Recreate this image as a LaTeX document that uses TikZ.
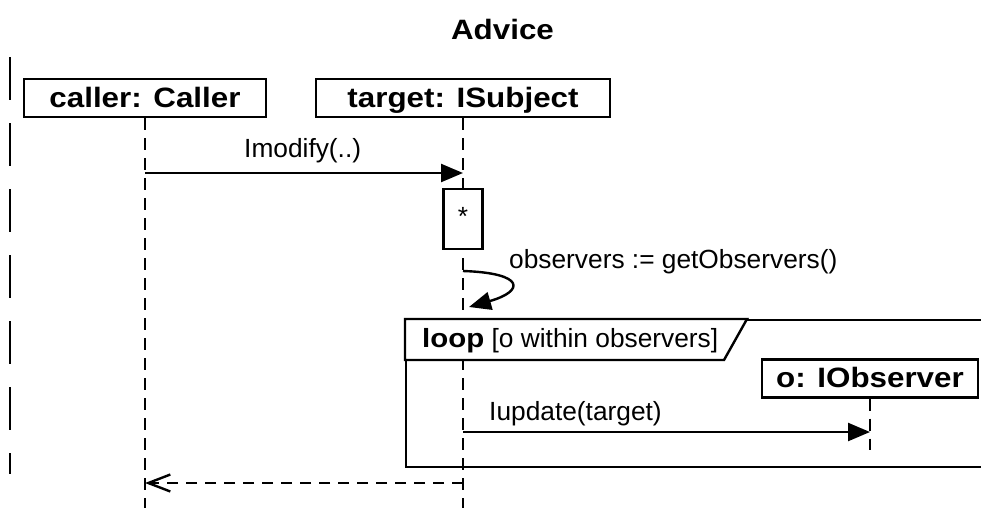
\documentclass[tikz,border=0pt]{standalone}
\usepackage{fontspec}
\setmainfont{Liberation Sans}
\newfontfamily\widefont[FakeStretch=1.12]{Liberation Sans}
\usetikzlibrary{arrows.meta}

\begin{document}
\begin{tikzpicture}[x=1pt, y=-1pt, line width=2.4pt,
  lbl/.style = {inner sep=0pt, font=\fontsize{26.3}{30}\selectfont},
  title/.style = {inner sep=0pt, font=\widefont\bfseries\fontsize{28}{32}\selectfont},
  lifebox/.style = {shape=rectangle, draw, fill=white,
    inner xsep=0pt, inner ysep=5pt, text height=23pt, text depth=5pt,
    font=\widefont\bfseries\fontsize{28}{32}\selectfont},
  lifeline/.style = {dash pattern=on 12pt off 8pt},
  actbox/.style = {shape=rectangle, draw, fill=white,
    minimum width=39pt, minimum height=60pt, inner sep=0pt},
  call/.style = {-{Triangle[length=22pt, width=18pt]}},
  reply/.style = {dash pattern=on 11pt off 8pt,
    -{Straight Barb[length=22pt, width=17pt]}},
  fragment/.style = {shape=rectangle, draw, inner sep=0pt, anchor=north west},
  border/.style = {dash pattern=on 43pt off 23pt}]
  \useasboundingbox (0,0) rectangle (981,507);

  \coordinate (modrow) at (0,173);
  \coordinate (selfrow) at (0,271);
  \coordinate (selfend) at (0,307);
  \coordinate (updrow) at (0,432);
  \coordinate (updend) at (0,450);
  \coordinate (retrow) at (0,483);
  \coordinate (bottom) at (0,512);
  \coordinate (bordertop) at (10,57);
  \coordinate (borderbot) at (10,474);

  \node[title, anchor=base] (title) at (502.5,39) {Advice};
  \draw[border] (bordertop) -- (borderbot);

  \node[lifebox, minimum width=242pt] (caller) at (145,98) {caller: Caller};
  \node[lifebox, minimum width=294pt] (target) at (463,98) {target: ISubject};

  \draw[lifeline] (caller.south) -- (caller.south |- bottom);
  \draw[lifeline] (target.south) -- (target.south |- bottom);

  \draw[call] (caller.south |- modrow) -- (target.south |- modrow);
  \node[lbl, anchor=base west] (modlbl) at (243,157) {Imodify(..)};

  \node[actbox] (act) at (463,219) {};
  \node[lbl, anchor=base] (star) at ([yshift=-38pt]act.north) {*};

  \draw[call] (target.south |- selfrow) .. controls +(62,2) and +(56,-16)
    .. ([xshift=6pt]target.south |- selfend);
  \node[lbl, anchor=base west] (getlbl) at (508,268) {observers := getObservers()};

  \node[fragment, minimum width=600pt, minimum height=147pt] (loop) at (405,319) {};
  \draw[fill=white] (loop.north west) -- ++(342,0) -- ++(-23,41) -- ++(-319,0) -- cycle;
  \node[lbl, anchor=base west] (cond) at (421,347)
    {{\widefont\bfseries loop} [o within observers]};

  \node[lifebox, minimum width=216pt] (observer) at (870,378.5) {o: IObserver};
  \draw[lifeline] (observer.south) -- (observer.south |- updend);
  \draw[call] (target.south |- updrow) -- (observer.south |- updrow);
  \node[lbl, anchor=base west] (updlbl) at (488,420) {Iupdate(target)};

  \draw[reply] (target.south |- retrow) -- (caller.south |- retrow);
\end{tikzpicture}
\end{document}
